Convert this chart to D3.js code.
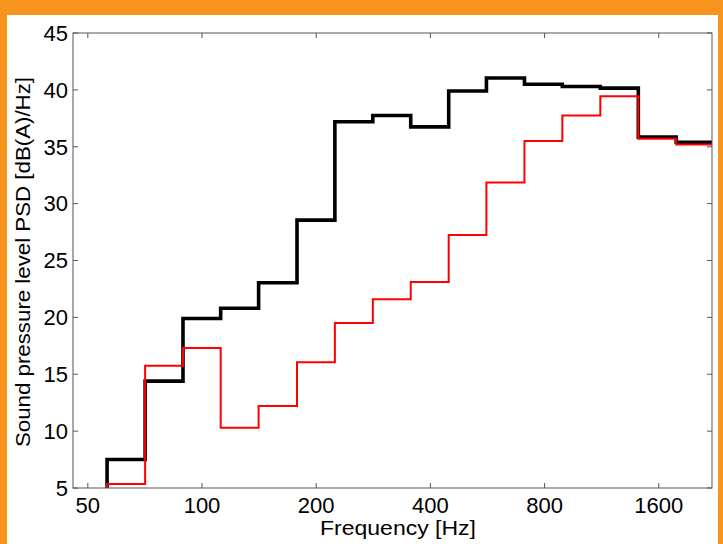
<!DOCTYPE html>
<html>
<head>
<meta charset="utf-8">
<script src="https://cdn.jsdelivr.net/npm/d3@7"></script>
<style>
  body { margin: 0; background: #F7941E; }
  svg { display: block; }
</style>
</head>
<body>
<div id="chart"></div>
<script>
// third-octave band edges [Hz]
var bandEdges = [56.2, 70.8, 89.1, 112, 141, 178, 224, 282, 355, 447, 562, 708, 891, 1122, 1413, 1778, 2239]
// level per band, black and red traces [dB(A)/Hz]
var blackLevels = [7.5, 14.4, 19.9, 20.8, 23.05, 28.55, 37.2, 37.75, 36.75, 39.9, 41.05, 40.5, 40.3, 40.15, 35.85, 35.4]
var redLevels = [5.35, 15.75, 17.3, 10.3, 12.2, 16.05, 19.5, 21.6, 23.1, 27.25, 31.85, 35.5, 37.75, 39.45, 35.7, 35.2]
var xTicks = [50, 100, 200, 400, 800, 1600]
var yTicks = [5, 10, 15, 20, 25, 30, 35, 40, 45]

var width = 723, height = 544
var plotLeft = 73, plotRight = 712, plotTop = 33, plotBottom = 488

var svg = d3.select("#chart").append("svg")
  .attr("width", width)
  .attr("height", height)

// orange frame with white panel
svg.append("rect")
  .attr("x", 0).attr("y", 0)
  .attr("width", width).attr("height", height)
  .attr("fill", "#F7941E")
svg.append("rect")
  .attr("x", 7).attr("y", 15)
  .attr("width", 711).attr("height", height - 15)
  .attr("fill", "white")

var x = d3.scaleLog()
  .domain([45.7, 2210])
  .range([plotLeft, plotRight])

var y = d3.scaleLinear()
  .domain([5, 45])
  .range([plotBottom, plotTop])

svg.append("clipPath")
  .attr("id", "plotclip")
  .append("rect")
  .attr("x", plotLeft).attr("y", plotTop - 3)
  .attr("width", plotRight - plotLeft).attr("height", plotBottom - plotTop + 3)

function stairs(levels) {
  var pts = [[bandEdges[0], 0]]
  levels.forEach(function (v, i) {
    pts.push([bandEdges[i], v])
    pts.push([bandEdges[i + 1], v])
  })
  return d3.line()
    .x(d => x(d[0]))
    .y(d => y(d[1]))(pts)
}

svg.append("path")
  .attr("d", stairs(blackLevels))
  .attr("fill", "none")
  .attr("stroke", "black")
  .attr("stroke-width", 3.6)
  .attr("clip-path", "url(#plotclip)")

svg.append("path")
  .attr("d", stairs(redLevels))
  .attr("fill", "none")
  .attr("stroke", "#ff0000")
  .attr("stroke-width", 2)
  .attr("clip-path", "url(#plotclip)")

// axes box
var axisColor = "#555"
svg.append("rect")
  .attr("x", plotLeft).attr("y", plotTop)
  .attr("width", plotRight - plotLeft).attr("height", plotBottom - plotTop)
  .attr("fill", "none")
  .attr("stroke", axisColor)
  .attr("stroke-width", 1)

var tickLen = 5

svg.selectAll("xtickb")
  .data(xTicks)
  .enter()
  .append("line")
  .attr("x1", d => x(d)).attr("x2", d => x(d))
  .attr("y1", plotBottom).attr("y2", plotBottom - tickLen)
  .attr("stroke", axisColor)

svg.selectAll("xtickt")
  .data(xTicks)
  .enter()
  .append("line")
  .attr("x1", d => x(d)).attr("x2", d => x(d))
  .attr("y1", plotTop).attr("y2", plotTop + tickLen)
  .attr("stroke", axisColor)

svg.selectAll("ytickl")
  .data(yTicks)
  .enter()
  .append("line")
  .attr("x1", plotLeft).attr("x2", plotLeft + tickLen)
  .attr("y1", d => y(d)).attr("y2", d => y(d))
  .attr("stroke", axisColor)

svg.selectAll("ytickr")
  .data(yTicks)
  .enter()
  .append("line")
  .attr("x1", plotRight).attr("x2", plotRight - tickLen)
  .attr("y1", d => y(d)).attr("y2", d => y(d))
  .attr("stroke", axisColor)

var font = "Liberation Sans, Arial, Helvetica, sans-serif"

svg.selectAll("xlab")
  .data(xTicks)
  .enter()
  .append("text")
  .text(d => d)
  .attr("x", d => x(d))
  .attr("y", 513)
  .attr("font-family", font)
  .attr("font-size", 22)
  .attr("fill", "black")
  .attr("text-anchor", "middle")

svg.selectAll("ylab")
  .data(yTicks)
  .enter()
  .append("text")
  .text(d => d)
  .attr("x", 68)
  .attr("y", d => y(d) + 7.8)
  .attr("font-family", font)
  .attr("font-size", 22)
  .attr("fill", "black")
  .attr("text-anchor", "end")

svg.append("text")
  .text("Frequency [Hz]")
  .attr("x", 398)
  .attr("y", 535)
  .attr("font-family", font)
  .attr("font-size", 20)
  .attr("fill", "black")
  .attr("text-anchor", "middle")
  .attr("textLength", 156)
  .attr("lengthAdjust", "spacingAndGlyphs")

svg.append("text")
  .text("Sound pressure level PSD [dB(A)/Hz]")
  .attr("transform", "translate(30,262) rotate(-90)")
  .attr("font-family", font)
  .attr("font-size", 20)
  .attr("fill", "black")
  .attr("text-anchor", "middle")
  .attr("textLength", 370)
  .attr("lengthAdjust", "spacingAndGlyphs")
</script>
</body>
</html>
